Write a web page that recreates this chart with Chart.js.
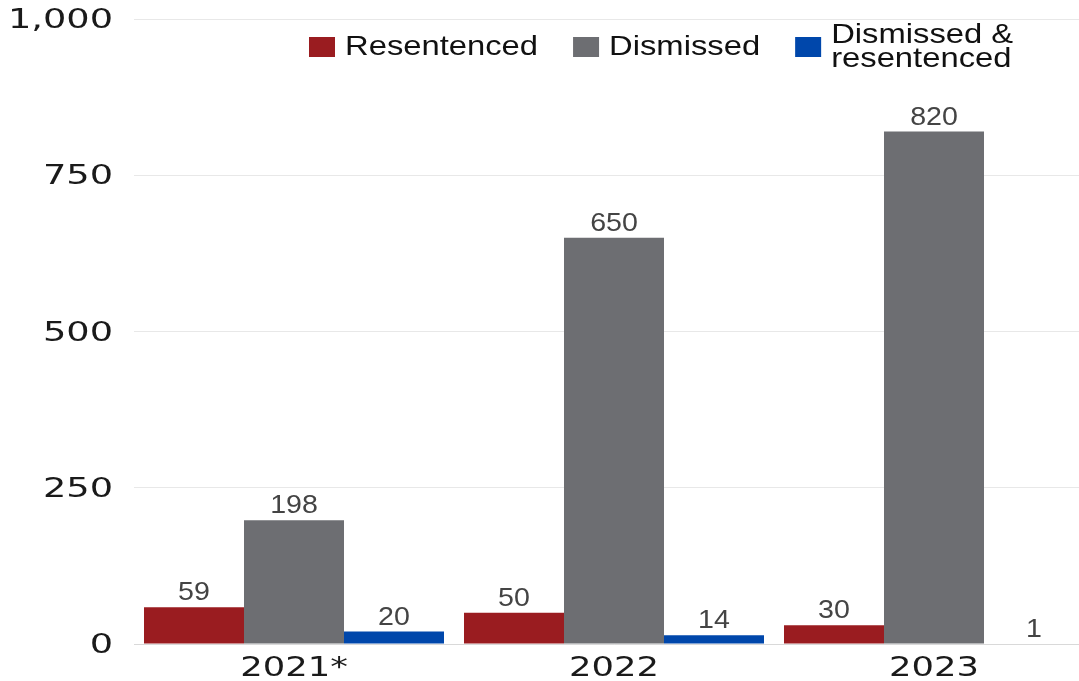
<!DOCTYPE html>
<html>
<head>
<meta charset="utf-8">
<script src="https://cdn.jsdelivr.net/npm/chart.js@4"></script>
<style>
    html, body { margin: 0; padding: 0; background: #fff; overflow: hidden; }
    #wrap { width: 1100px; height: 681px; }
</style>
</head>
<body>
<div id="wrap"><canvas id="resentencingChart"></canvas></div>
<script>
// Values
const years = ['2021*', '2022', '2023'];
const resentenced = [59, 50, 30];
const dismissed = [198, 650, 820];
const dismissedResentenced = [20, 14, 1];
const yTicks = [0, 250, 500, 750, 1000];

const seriesLabels = [['Resentenced'], ['Dismissed'], ['Dismissed &', 'resentenced']];
const seriesColors = ['#9a1c20', '#6d6e72', '#0047ab'];

// draw text squeezed / stretched horizontally
function drawText(ctx, text, x, y, sx, font, color, align) {
    ctx.save();
    ctx.font = font;
    ctx.fillStyle = color;
    ctx.textAlign = align;
    ctx.textBaseline = 'middle';
    ctx.translate(x, y);
    ctx.scale(sx, 1);
    ctx.fillText(text, 0, 0);
    ctx.restore();
}

const axisFont = '27px "DejaVu Sans"';
const xFont = '26px "DejaVu Sans"';
const labelFont = '26px "Liberation Sans"';
const legendFont = '28px "Liberation Sans"';

const axisLabels = {
    id: 'axisLabels',
    afterDraw(chart) {
        const ctx = chart.ctx;
        const y = chart.scales.y;
        const x = chart.scales.x;
        yTicks.forEach(v => {
            drawText(ctx, v.toLocaleString('en-US'), chart.chartArea.left - 21,
                y.getPixelForValue(v) + 2, 1.36, axisFont, '#1a1a1a', 'right');
        });
        years.forEach((lab, i) => {
            drawText(ctx, lab, x.getPixelForValue(i), chart.chartArea.bottom + 25,
                1.36, xFont, '#1a1a1a', 'center');
        });
    }
};

const valueLabels = {
    id: 'valueLabels',
    afterDatasetsDraw(chart) {
        const ctx = chart.ctx;
        chart.data.datasets.forEach((ds, di) => {
            chart.getDatasetMeta(di).data.forEach((bar, i) => {
                drawText(ctx, String(ds.data[i]), bar.x, bar.y - 14, 1.1,
                    labelFont, '#444', 'center');
            });
        });
    }
};

const legendBoxes = {
    id: 'legendBoxes',
    afterDraw(chart) {
        const ctx = chart.ctx;
        let cx = 309;
        const cy = 47;
        seriesLabels.forEach((lines, i) => {
            ctx.fillStyle = seriesColors[i];
            ctx.fillRect(cx, cy - 10, 26, 20);
            cx += 36;
            ctx.font = legendFont;
            let w = 0;
            lines.forEach((t, li) => {
                const ly = lines.length === 1 ? cy : cy - 12 + li * 24;
                drawText(ctx, t, cx, ly, 1.17, legendFont, '#111', 'left');
                w = Math.max(w, ctx.measureText(t).width * 1.17);
            });
            cx += w + 35;
        });
    }
};

new Chart(document.getElementById('resentencingChart'), {
    type: 'bar',
    data: {
        labels: years,
        datasets: [
            { label: 'Resentenced', data: resentenced, backgroundColor: seriesColors[0] },
            { label: 'Dismissed', data: dismissed, backgroundColor: seriesColors[1] },
            { label: 'Dismissed & resentenced', data: dismissedResentenced, backgroundColor: seriesColors[2] }
        ]
    },
    options: {
        responsive: true,
        maintainAspectRatio: false,
        animation: false,
        datasets: {
            bar: { categoryPercentage: 0.9375, barPercentage: 1 }
        },
        layout: { padding: { top: 19, right: 6, left: 0, bottom: 0 } },
        plugins: {
            legend: { display: false },
            tooltip: { enabled: false }
        },
        scales: {
            x: {
                grid: { display: false },
                border: { color: '#d9d9d9' },
                ticks: { display: false },
                afterFit(scale) { scale.height = 37; }
            },
            y: {
                min: 0,
                max: 1000,
                ticks: { display: false, stepSize: 250 },
                grid: { color: '#e8e8e8', drawTicks: false },
                border: { display: false },
                afterFit(scale) { scale.width = 134; }
            }
        }
    },
    plugins: [axisLabels, valueLabels, legendBoxes]
});
</script>
</body>
</html>
